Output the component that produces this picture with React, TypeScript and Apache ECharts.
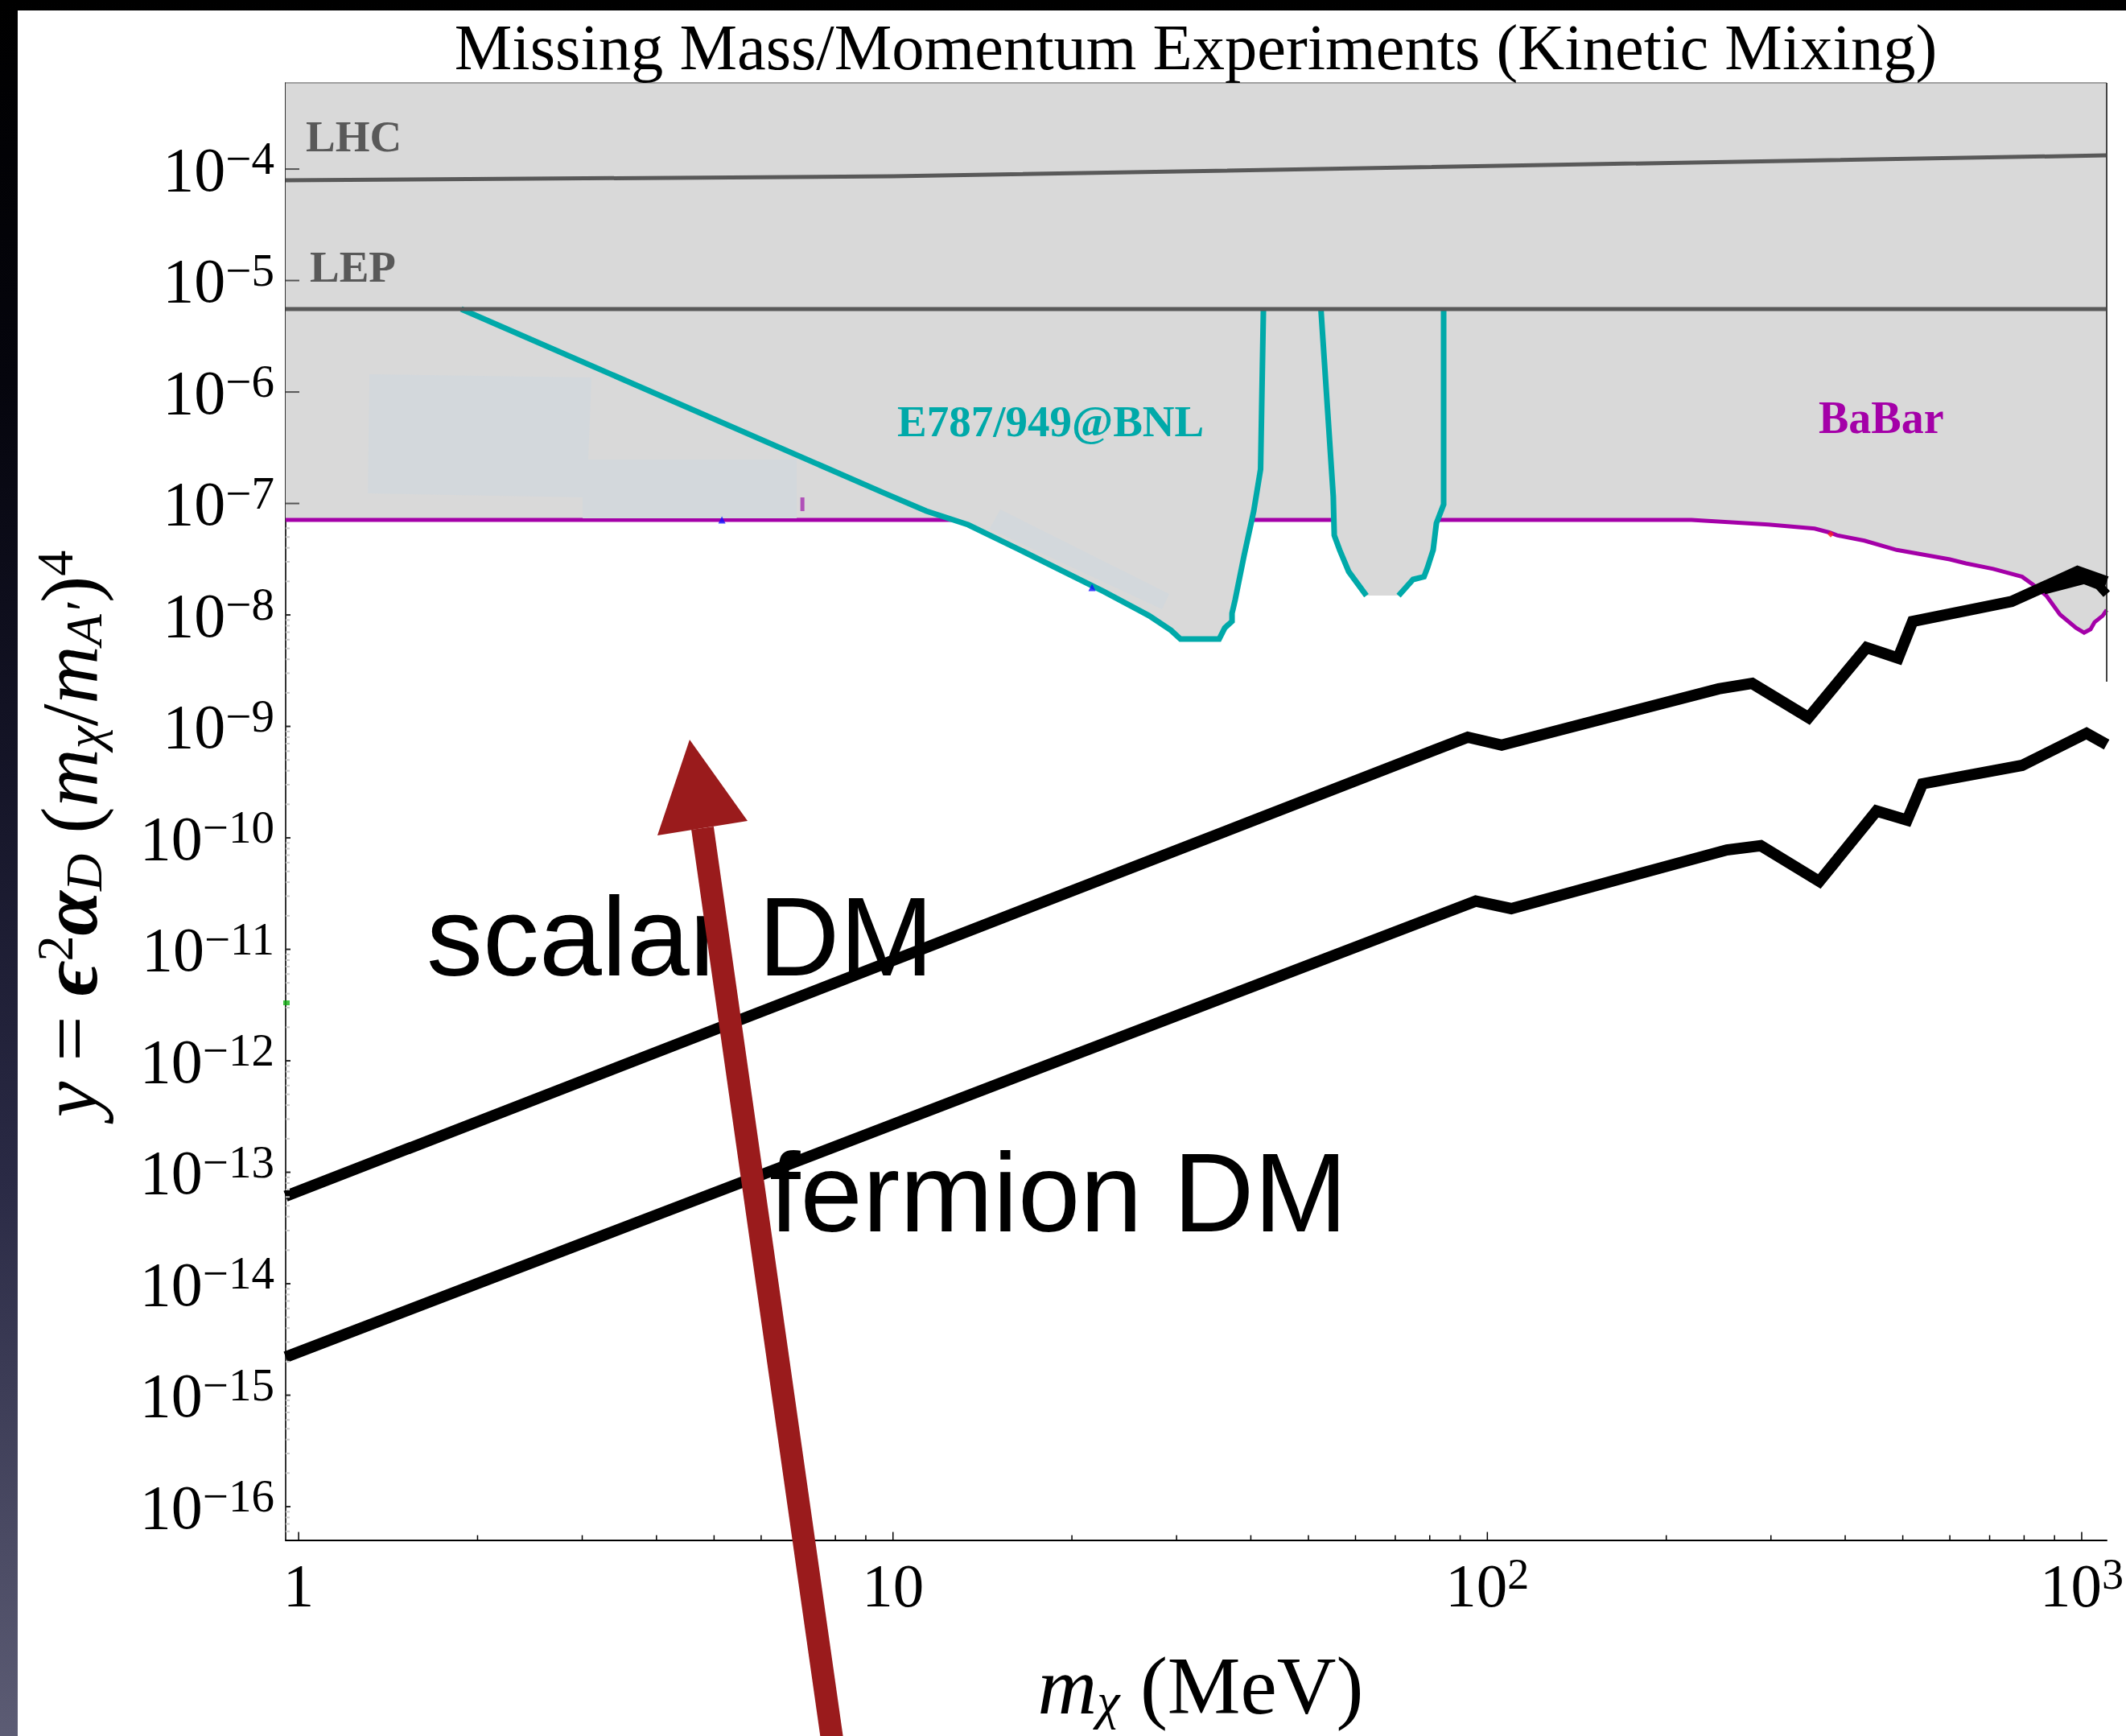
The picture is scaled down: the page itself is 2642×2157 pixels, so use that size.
import React, { useEffect, useRef } from "react";
import * as echarts from "echarts";

const PAGE_W = 2642;
const PAGE_H = 2157;

// ---- axis ranges ----
const X_MIN = 0.951;
const X_MAX = 1101.6;
const Y_MIN = 5.02e-17;
const Y_MAX = 5.93e-4;

// ---- ticks ----
const xMajorTicks = [1, 10, 100, 1000];
const xMajorBase = ["1", "10", "10", "10"];
const xMajorExp = ["", "", "2", "3"];
const xMinorDecades = [1, 10, 100];
const yMajorExponents = [-4, -5, -6, -7, -8, -9, -10, -11, -12, -13, -14, -15, -16];
const yMinorDecades = [-17, -16, -15, -14, -13, -12, -11, -10, -9, -8];
const minorMultipliers = [2, 3, 4, 5, 6, 7, 8, 9];

// ---- bounds (x in MeV, y dimensionless) ----
const lhcBound = [[0.951, 7.92e-5], [10.0, 8.61e-5], [1101.6, 1.327e-4]];
const lepBound = [[0.951, 5.55e-6], [1101.6, 5.55e-6]];

const babarBound = [
  [0.951, 7.11e-8], [220.5, 7.11e-8], [297.0, 6.47e-8], [355.3, 5.95e-8], [376.9, 5.48e-8],
  [387.6, 5.18e-8], [430.9, 4.64e-8], [488.3, 3.83e-8], [599.8, 3.15e-8], [638.4, 2.9e-8],
  [709.9, 2.59e-8], [793.9, 2.2e-8], [829.3, 1.86e-8], [871.7, 1.49e-8], [919.1, 1.01e-8],
  [978.4, 7.66e-9], [1009.4, 6.94e-9], [1035.0, 7.45e-9], [1051.1, 8.61e-9], [1084.4, 9.83e-9],
  [1101.6, 1.105e-8],
];

const e787Left = [
  [1.877, 5.55e-6], [9.70, 1.23e-7], [11.38, 8.54e-8], [13.38, 6.44e-8], [16.23, 3.91e-8],
  [22.65, 1.62e-8], [26.98, 9.83e-9], [29.35, 7.29e-9], [30.46, 6.07e-9], [35.38, 6.07e-9],
  [36.16, 7.66e-9], [37.19, 8.76e-9], [37.19, 1.034e-8], [37.65, 1.372e-8], [38.97, 3.42e-8],
  [40.45, 8.54e-8], [41.54, 2.03e-7], [42.0, 5.55e-6],
];
const e787BumpDown = [
  [52.48, 5.55e-6], [55.05, 1.158e-7], [55.26, 5.18e-8], [56.42, 3.83e-8], [58.44, 2.45e-8],
  [62.59, 1.49e-8],
];
const e787BumpUp = [
  [70.9, 1.49e-8], [74.99, 2.08e-8], [78.24, 2.2e-8], [79.32, 2.67e-8], [81.07, 3.83e-8],
  [82.09, 6.65e-8], [84.42, 9.8e-8], [84.42, 5.55e-6],
];

// faint overlay patches inside the excluded region
const patchShapes = [
  [[1.3155, 1.441e-6], [3.11, 1.349e-6], [3.053, 1.133e-7], [1.3073, 1.231e-7]],
  [[3.005, 2.474e-7], [6.887, 2.474e-7], [6.887, 7.35e-8], [3.005, 7.35e-8]],
  [[15.16, 8.83e-8], [29.16, 1.54e-8], [28.36, 1.123e-8], [14.53, 5.92e-8]],
];

// relic targets
const scalarDM = [
  [0.951, 6.1e-14], [92.7, 8.0e-10], [105.7, 6.8e-10], [245, 2.17e-9], [279, 2.43e-9],
  [347, 1.2e-9], [434.5, 5.1e-9], [491, 4.1e-9], [519.5, 8.75e-9], [762, 1.32e-8],
  [984, 2.45e-8], [1101.6, 1.98e-8],
];
const scalarEdge = [[863.9, 1.674e-8], [1009.4, 2.078e-8], [1067.8, 1.85e-8], [1101.6, 1.54e-8]];
const fermionDM = [
  [0.951, 2.2e-15], [95.6, 2.71e-11], [109.7, 2.32e-11], [252.9, 7.79e-11], [288.4, 8.52e-11],
  [361.9, 4.07e-11], [451.6, 1.742e-10], [508.4, 1.442e-10], [539.5, 3.05e-10], [793.9, 4.47e-10],
  [1018.9, 8.68e-10], [1101.6, 6.88e-10],
];

// small stray marks
const blueMarks = [[5.154, 7.11e-8], [21.62, 1.76e-8]];
const redMarks = [[378.1, 5.3e-8]];
const greenMarks = [[0.954, 3.31e-12]];
const purpleDash = [[7.04, 1.133e-7], [7.04, 8.54e-8]];

const frameTop = [[X_MIN, Y_MAX], [X_MAX, Y_MAX]];
const frameRight = [[X_MAX, Y_MAX], [X_MAX, 2.52e-9]];

const SERIF = "'Liberation Serif', 'Times New Roman', 'DejaVu Serif', serif";
const SANS = "'Liberation Sans', Arial, Helvetica, sans-serif";
const GRAY = "#d9d9d9";
const TEAL = "#00a9a9";
const MAGENTA = "#a400a8";
const DARK = "#595959";

function fillSeries(name: string, data: number[][], z: number) {
  return {
    type: "line", name, data, symbol: "none", silent: true, z,
    lineStyle: { width: 0, opacity: 0 },
    areaStyle: { color: GRAY, opacity: 1, origin: "end" },
  };
}
function strokeSeries(name: string, data: number[][], color: string, width: number, z: number, extra: any = {}) {
  return {
    type: "line", name, data, symbol: "none", silent: true, z,
    lineStyle: { color, width, join: "miter", miterLimit: 8, cap: "butt" },
    ...extra,
  };
}

function buildOption(): any {
  const yMinor: number[][] = [];
  yMinorDecades.forEach((e) => minorMultipliers.forEach((k) => {
    const v = k * Math.pow(10, e);
    if (v > Y_MIN && v < 7.0e-8) yMinor.push([X_MIN, v]);
  }));
  const xMinor: number[][] = [];
  xMinorDecades.forEach((d) => minorMultipliers.forEach((k) => {
    const v = k * d;
    if (v > X_MIN && v < X_MAX) xMinor.push([v, Y_MIN]);
  }));

  const tickRich = {
    b: { fontFamily: SERIF, fontSize: 78, lineHeight: 84, fill: "#000" },
    e: { fontFamily: SERIF, fontSize: 57, lineHeight: 42, verticalAlign: "top", fill: "#000" },
  };
  const xTickRich = {
    b: { fontFamily: SERIF, fontSize: 77, lineHeight: 82, fill: "#000" },
    e: { fontFamily: SERIF, fontSize: 54, lineHeight: 38, verticalAlign: "top", fill: "#000" },
  };

  const series: any[] = [
    fillSeries("BaBar region", babarBound, 1),
    strokeSeries("BaBar", babarBound, MAGENTA, 5, 2),
    fillSeries("E787 region A", e787Left, 3),
    fillSeries("E787 region B", [...e787BumpDown, ...e787BumpUp], 3),
    {
      type: "custom", name: "patches", coordinateSystem: "cartesian2d", silent: true, z: 4, clip: true,
      data: patchShapes.map((pts, i) => [pts[0][0], pts[0][1], i]),
      renderItem: (params: any, api: any) => {
        const pts = patchShapes[api.value(2)].map((p) => api.coord(p));
        return { type: "polygon", shape: { points: pts }, style: { fill: "#d3d8dc" } };
      },
    },
    strokeSeries("E787 A", e787Left, TEAL, 7, 5),
    strokeSeries("E787 B1", e787BumpDown, TEAL, 7, 5),
    strokeSeries("E787 B2", e787BumpUp, TEAL, 7, 5),
    strokeSeries("LEP", lepBound, DARK, 5, 6),
    strokeSeries("LHC", lhcBound, DARK, 5, 6),
    strokeSeries("frameTop", frameTop, "#a0a0a0", 2, 6, { clip: false }),
    strokeSeries("frameRight", frameRight, "#444", 2, 6, { clip: false }),
    strokeSeries("purpleDash", purpleDash, "#b050b8", 5, 7),
    { type: "scatter", name: "blue", data: blueMarks, symbol: "triangle", symbolSize: 9, itemStyle: { color: "#1010ff" }, z: 7, silent: true },
    { type: "scatter", name: "red", data: redMarks, symbol: "diamond", symbolSize: 8, itemStyle: { color: "#ff2020" }, z: 7, silent: true },
    { type: "scatter", name: "green", data: greenMarks, symbol: "rect", symbolSize: [8, 6], itemStyle: { color: "#10b010" }, z: 7, silent: true },
    strokeSeries("fermion DM", fermionDM, "#000", 14, 8),
    strokeSeries("scalar DM", scalarDM, "#000", 14, 8),
    strokeSeries("scalar DM edge", scalarEdge, "#000", 11, 8),
    {
      type: "custom", name: "yMinor", coordinateSystem: "cartesian2d", silent: true, z: 9, clip: false,
      data: yMinor,
      renderItem: (params: any, api: any) => {
        const p = api.coord([api.value(0), api.value(1)]);
        return { type: "line", shape: { x1: p[0], y1: p[1], x2: p[0] + 5, y2: p[1] }, style: { stroke: "#c8c8c8", lineWidth: 2 } };
      },
    },
    {
      type: "custom", name: "yMajor", coordinateSystem: "cartesian2d", silent: true, z: 9, clip: false,
      data: yMajorExponents.map((e) => [X_MIN, Math.pow(10, e), e]),
      renderItem: (params: any, api: any) => {
        const p = api.coord([api.value(0), api.value(1)]);
        const e = api.value(2);
        const inGray = e >= -7;
        return {
          type: "group",
          children: [
            { type: "line", shape: { x1: p[0], y1: p[1], x2: p[0] + (inGray ? 17 : 6), y2: p[1] }, style: { stroke: inGray ? "#555" : "#222", lineWidth: 2 } },
            {
              type: "text", x: p[0] - 14, y: p[1],
              style: { text: "{b|10}{e|\u2212" + -e + "}", align: "right", verticalAlign: "middle", fontFamily: SERIF, fontSize: 78, fill: "#000", rich: tickRich },
            },
          ],
        };
      },
    },
    {
      type: "custom", name: "xMinor", coordinateSystem: "cartesian2d", silent: true, z: 9, clip: false,
      data: xMinor,
      renderItem: (params: any, api: any) => {
        const p = api.coord([api.value(0), api.value(1)]);
        return { type: "line", shape: { x1: p[0], y1: p[1], x2: p[0], y2: p[1] - 6 }, style: { stroke: "#000", lineWidth: 1.5 } };
      },
    },
    {
      type: "custom", name: "xMajor", coordinateSystem: "cartesian2d", silent: true, z: 9, clip: false,
      data: xMajorTicks.map((v, i) => [v, Y_MIN, i]),
      renderItem: (params: any, api: any) => {
        const p = api.coord([api.value(0), api.value(1)]);
        const i = api.value(2);
        const label = "{b|" + xMajorBase[i] + "}" + (xMajorExp[i] ? "{e|" + xMajorExp[i] + "}" : "");
        return {
          type: "group",
          children: [
            { type: "line", shape: { x1: p[0], y1: p[1], x2: p[0], y2: p[1] - 10 }, style: { stroke: "#000", lineWidth: 1.5 } },
            {
              type: "text", x: p[0], y: p[1] + 56,
              style: { text: label, align: "center", verticalAlign: "middle", fontFamily: SERIF, fontSize: 77, fill: "#000", rich: xTickRich },
            },
          ],
        };
      },
    },
  ];

  const yTitleRich = {
    i: { fontFamily: SERIF, fontStyle: "italic", fontSize: 100, lineHeight: 100, fill: "#000" },
    ib: { fontFamily: SERIF, fontStyle: "italic", fontWeight: "bold", fontSize: 100, lineHeight: 100, fill: "#000" },
    r: { fontFamily: SERIF, fontSize: 100, lineHeight: 100, fill: "#000" },
    sup: { fontFamily: SERIF, fontSize: 64, lineHeight: 52, verticalAlign: "top", fill: "#000" },
    sub: { fontFamily: SERIF, fontStyle: "italic", fontSize: 64, lineHeight: 52, verticalAlign: "bottom", fill: "#000" },
  };
  const xTitleRich = {
    i: { fontFamily: SERIF, fontStyle: "italic", fontSize: 102, lineHeight: 102, fill: "#000" },
    r: { fontFamily: SERIF, fontSize: 102, lineHeight: 102, fill: "#000" },
    sub: { fontFamily: SERIF, fontStyle: "italic", fontSize: 64, lineHeight: 56, verticalAlign: "bottom", fill: "#000" },
  };

  const graphic: any[] = [
    { type: "text", x: 1486, y: 58, z: 100, style: { text: "Missing Mass/Momentum Experiments (Kinetic Mixing)", fontFamily: SERIF, fontSize: 80.5, fill: "#000", align: "center", verticalAlign: "middle" } },
    { type: "text", x: 380, y: 169, z: 50, style: { text: "LHC", fontFamily: SERIF, fontWeight: "bold", fontSize: 55, fill: DARK, align: "left", verticalAlign: "middle" } },
    { type: "text", x: 385, y: 331, z: 50, style: { text: "LEP", fontFamily: SERIF, fontWeight: "bold", fontSize: 55, fill: DARK, align: "left", verticalAlign: "middle" } },
    { type: "text", x: 1115, y: 523, z: 50, style: { text: "E787/949@BNL", fontFamily: SERIF, fontWeight: "bold", fontSize: 55, fill: TEAL, align: "left", verticalAlign: "middle" } },
    { type: "text", x: 2260, y: 519, z: 50, style: { text: "BaBar", fontFamily: SERIF, fontWeight: "bold", fontSize: 56, fill: MAGENTA, align: "left", verticalAlign: "middle" } },
    { type: "text", x: 530, y: 1163, z: 60, style: { text: "scalar DM", fontFamily: SANS, fontSize: 140, fill: "#000", align: "left", verticalAlign: "middle" } },
    { type: "text", x: 956, y: 1481, z: 60, style: { text: "fermion DM", fontFamily: SANS, fontSize: 139, fill: "#000", align: "left", verticalAlign: "middle" } },
    {
      type: "text", x: 86, y: 1036, rotation: Math.PI / 2, z: 100,
      style: {
        text: "{i|y}{r| = }{ib|\u03f5}{sup|2}{ib|\u03b1}{sub|D}{r| (}{i|m}{sub|\u03c7}{r|/}{i|m}{sub|A\u2032}{r|)}{sup|4}",
        align: "center", verticalAlign: "middle", fontFamily: SERIF, fontSize: 100, fill: "#000", rich: yTitleRich,
      },
    },
    {
      type: "text", x: 1492, y: 2094, z: 100,
      style: { text: "{i|m}{sub|\u03c7}{r| (MeV)}", align: "center", verticalAlign: "middle", fontFamily: SERIF, fontSize: 102, fill: "#000", rich: xTitleRich },
    },
    { type: "line", z: 110, shape: { x1: 1036, y1: 2175, x2: 873, y2: 1029 }, style: { stroke: "#9a1b1c", lineWidth: 28 } },
    { type: "polygon", z: 110, shape: { points: [[857, 919], [817, 1038], [929, 1020]] }, style: { fill: "#9a1b1c" } },
  ];

  return {
    animation: false,
    backgroundColor: "transparent",
    grid: { left: 355, top: 103, width: 2263, height: 1810.5, containLabel: false },
    xAxis: {
      type: "log", logBase: 10, min: X_MIN, max: X_MAX,
      axisLine: { show: true, onZero: false, lineStyle: { color: "#000", width: 2 } },
      axisTick: { show: false }, axisLabel: { show: false }, splitLine: { show: false }, minorTick: { show: false },
    },
    yAxis: {
      type: "log", logBase: 10, min: Y_MIN, max: Y_MAX,
      axisLine: { show: true, onZero: false, lineStyle: { color: "#333", width: 2 } },
      axisTick: { show: false }, axisLabel: { show: false }, splitLine: { show: false }, minorTick: { show: false },
    },
    series,
    graphic,
  };
}

export default function App() {
  const ref = useRef<HTMLDivElement>(null);
  useEffect(() => {
    if (!ref.current) return;
    const chart = echarts.init(ref.current, undefined, { renderer: "svg", width: PAGE_W, height: PAGE_H });
    chart.setOption(buildOption());
    return () => chart.dispose();
  }, []);
  return (
    <div
      style={{
        position: "fixed", left: 0, top: 0, width: PAGE_W, height: PAGE_H, overflow: "hidden",
        background: "linear-gradient(180deg, #000 0%, #05050d 22%, #151528 45%, #2a2a45 68%, #5c5c74 100%)",
      }}
    >
      <div style={{ position: "absolute", left: 22, top: 13, right: 0, bottom: 0, background: "#fff" }} />
      <div ref={ref} style={{ position: "absolute", left: 0, top: 0, width: PAGE_W, height: PAGE_H }} />
    </div>
  );
}
